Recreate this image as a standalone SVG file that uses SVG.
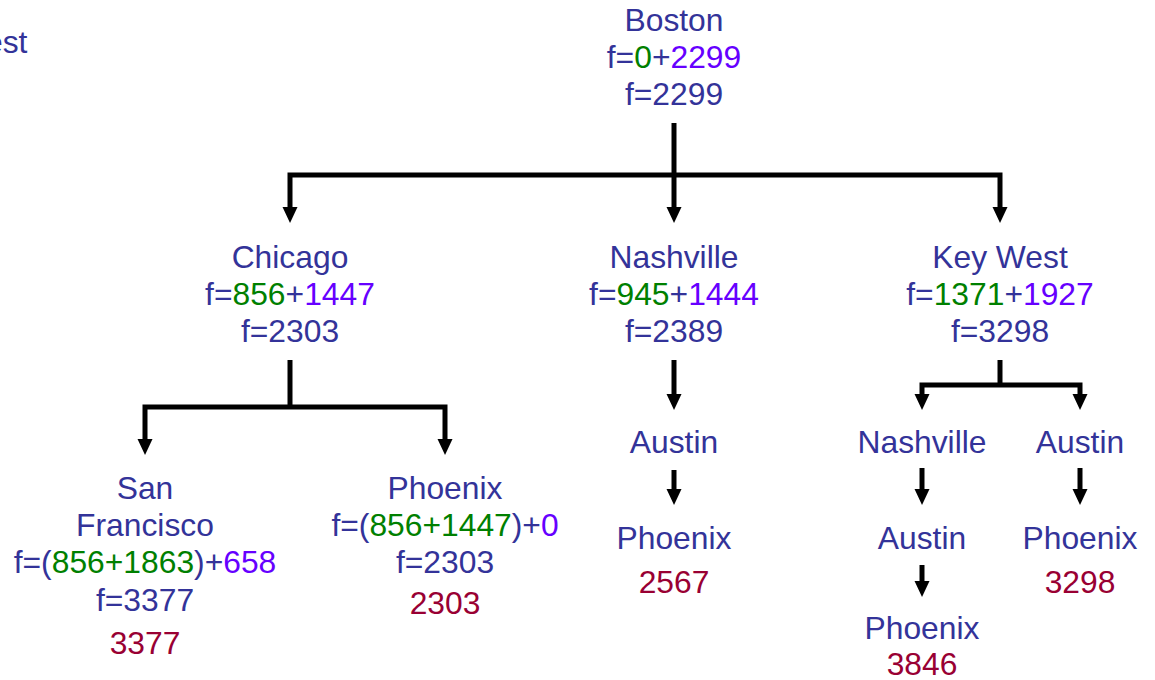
<svg xmlns="http://www.w3.org/2000/svg" width="1155" height="680" viewBox="0 0 1155 680">
<style>
text{font-family:"Liberation Sans",Arial,sans-serif;font-size:31.8px;text-anchor:middle;fill:#333399}
.g{fill:#008000}
.p{fill:#6600ff}
.r{fill:#990033}
.c{fill:none;stroke:#000;stroke-width:5;stroke-linejoin:miter}
</style>
<defs>
<marker id="ah" markerUnits="userSpaceOnUse" markerWidth="16" markerHeight="16" refX="0" refY="7.5" orient="auto-start-reverse" viewBox="0 0 16 15">
<path d="M0,0 L16,7.5 L0,15 Z" fill="#000"/>
</marker>
</defs>
<rect width="1155" height="680" fill="#fff"/>
<g id="connectors">
<path class="c" d="M674,123 V207" marker-end="url(#ah)"/>
<path class="c" d="M290,207 V175 H1000 V207" marker-start="url(#ah)" marker-end="url(#ah)"/>
<path class="c" d="M290,360 V407"/>
<path class="c" d="M145,439 V407 H445 V439" marker-start="url(#ah)" marker-end="url(#ah)"/>
<path class="c" d="M674,360 V394" marker-end="url(#ah)"/>
<path class="c" d="M674,470 V489" marker-end="url(#ah)"/>
<path class="c" d="M1000,360 V385"/>
<path class="c" d="M922,394 V385 H1080 V394" marker-start="url(#ah)" marker-end="url(#ah)"/>
<path class="c" d="M922,468 V489" marker-end="url(#ah)"/>
<path class="c" d="M922,565 V581" marker-end="url(#ah)"/>
<path class="c" d="M1080,468 V489" marker-end="url(#ah)"/>
</g>
<g id="cut-label"><text x="-15" y="53" style="text-anchor:start">est</text></g>
<g id="boston">
<text x="674" y="31">Boston</text>
<text x="674" y="68">f=<tspan class="g">0</tspan>+<tspan class="p">2299</tspan></text>
<text x="674" y="105">f=2299</text>
</g>
<g id="chicago">
<text x="290" y="268">Chicago</text>
<text x="290" y="305">f=<tspan class="g">856</tspan>+<tspan class="p">1447</tspan></text>
<text x="290" y="342">f=2303</text>
</g>
<g id="nashville">
<text x="674" y="268">Nashville</text>
<text x="674" y="305">f=<tspan class="g">945</tspan>+<tspan class="p">1444</tspan></text>
<text x="674" y="342">f=2389</text>
</g>
<g id="keywest">
<text x="1000" y="268">Key West</text>
<text x="1000" y="305">f=<tspan class="g">1371</tspan>+<tspan class="p">1927</tspan></text>
<text x="1000" y="342">f=3298</text>
</g>
<g id="sanfrancisco">
<text x="145" y="499">San</text>
<text x="145" y="536">Francisco</text>
<text x="145" y="573">f=(<tspan class="g">856+1863</tspan>)+<tspan class="p">658</tspan></text>
<text x="145" y="611">f=3377</text>
<text x="145" y="654" class="r">3377</text>
</g>
<g id="phoenix-chicago">
<text x="445" y="499">Phoenix</text>
<text x="445" y="536">f=(<tspan class="g">856+1447</tspan>)+<tspan class="p">0</tspan></text>
<text x="445" y="573">f=2303</text>
<text x="445" y="614" class="r">2303</text>
</g>
<g id="austin-nashville">
<text x="674" y="453">Austin</text>
</g>
<g id="phoenix-nashville">
<text x="674" y="549">Phoenix</text>
<text x="674" y="593" class="r">2567</text>
</g>
<g id="nashville-keywest">
<text x="922" y="453">Nashville</text>
</g>
<g id="austin-keywest-nashville">
<text x="922" y="549">Austin</text>
</g>
<g id="phoenix-keywest-nashville">
<text x="922" y="639">Phoenix</text>
<text x="922" y="675" class="r">3846</text>
</g>
<g id="austin-keywest">
<text x="1080" y="453">Austin</text>
</g>
<g id="phoenix-keywest">
<text x="1080" y="549">Phoenix</text>
<text x="1080" y="593" class="r">3298</text>
</g>
</svg>
